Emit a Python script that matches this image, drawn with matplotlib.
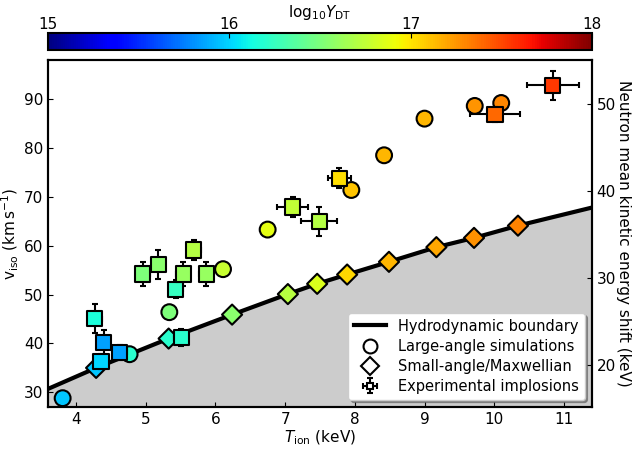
import numpy as np
import matplotlib
matplotlib.use("Agg")
import matplotlib.pyplot as plt
from matplotlib.lines import Line2D

# hydrodynamic boundary curve
bound_T = [3.6, 4.29, 5.33, 6.24, 7.04, 7.46, 7.89, 8.49, 9.17, 9.71, 10.34, 11.4]
bound_v = [30.7, 35.0, 41.0, 45.9, 50.1, 52.2, 54.1, 56.7, 59.7, 61.6, 64.1, 67.8]

# small-angle / Maxwellian (diamonds)
dia_T = [4.29, 5.33, 6.24, 7.04, 7.46, 7.89, 8.49, 9.17, 9.71, 10.34]
dia_v = [35.0, 41.0, 45.9, 50.1, 52.2, 54.1, 56.7, 59.7, 61.6, 64.1]
dia_Y = [15.95, 16.2, 16.55, 16.72, 16.85, 17.05, 17.15, 17.2, 17.27, 17.32]

# large-angle simulations (circles)
circ_T = [3.81, 4.77, 5.34, 6.11, 6.75, 7.95, 8.42, 9.0, 9.72, 10.1]
circ_v = [28.8, 37.8, 46.4, 55.2, 63.3, 71.4, 78.5, 86.0, 88.6, 89.2]
circ_Y = [15.95, 16.2, 16.5, 16.78, 16.88, 17.1, 17.15, 17.15, 17.25, 17.3]

# experimental implosions (squares)
sq_T = [4.27, 4.36, 4.40, 4.63, 5.51, 5.43, 4.96, 5.18, 5.54, 5.69, 5.87,
        7.11, 7.49, 7.78, 10.01, 10.84]
sq_v = [45.1, 36.3, 40.2, 38.2, 41.2, 51.1, 54.2, 56.1, 54.2, 59.1, 54.2,
        67.9, 65.0, 73.8, 86.9, 92.8]
sq_Y = [16.15, 16.0, 15.85, 15.85, 16.2, 16.25, 16.5, 16.55, 16.6, 16.7, 16.6,
        16.75, 16.7, 17.02, 17.4, 17.55]
sq_xerr = [0.1, 0.08, 0.08, 0.1, 0.1, 0.1, 0.1, 0.08, 0.1, 0.1, 0.1,
           0.22, 0.26, 0.16, 0.36, 0.37]
sq_yerr = [3.0, 1.5, 2.5, 1.5, 1.8, 1.8, 2.5, 3.0, 2.5, 2.0, 2.5,
           2.1, 3.0, 2.0, 1.5, 2.9]

plt.rcParams['font.size'] = 11
plt.rcParams['xtick.direction'] = 'in'
plt.rcParams['ytick.direction'] = 'in'

fig = plt.figure(figsize=(6.35, 4.51), dpi=100)
ax = fig.add_axes([0.0756, 0.0976, 0.8565, 0.7694])
cax = fig.add_axes([0.0756, 0.889, 0.8565, 0.0377])

ylo, yhi = 27.0, 98.0
ax.set_xlim(3.6, 11.4)
ax.set_ylim(ylo, yhi)

ax.fill_between(bound_T, ylo, bound_v, color='0.8', zorder=1, lw=0)
ax.plot(bound_T, bound_v, color='k', lw=3, zorder=2)

norm = plt.Normalize(15, 18)
cmap = plt.get_cmap('jet')

ax.scatter(dia_T, dia_v, c=dia_Y, cmap=cmap, norm=norm, marker='D', s=105,
           edgecolors='k', linewidths=1.5, zorder=3)
ax.scatter(circ_T, circ_v, c=circ_Y, cmap=cmap, norm=norm, marker='o', s=130,
           edgecolors='k', linewidths=1.5, zorder=3)
ax.errorbar(sq_T, sq_v, xerr=sq_xerr, yerr=sq_yerr, fmt='none', ecolor='k',
            elinewidth=1.5, capsize=2, capthick=1.5, zorder=4)
sc = ax.scatter(sq_T, sq_v, c=sq_Y, cmap=cmap, norm=norm, marker='s', s=120,
                edgecolors='k', linewidths=1.5, zorder=5)

ax.set_xticks([4, 5, 6, 7, 8, 9, 10, 11])
ax.set_yticks([30, 40, 50, 60, 70, 80, 90])
ax.set_xlabel(r'$T_\mathrm{ion}$ (keV)', labelpad=1)
ax.set_ylabel(r'$\mathrm{v}_\mathrm{iso}$ (km$\,$s$^{-1}$)', labelpad=2)
for s in ax.spines.values():
    s.set_linewidth(1.5)

ax2 = ax.twinx()
ax2.set_ylim(ylo * 0.5618, yhi * 0.5618)
ax2.set_yticks([20, 30, 40, 50])
ax2.set_ylabel('Neutron mean kinetic energy shift (keV)', rotation=270, labelpad=11)
for s in ax2.spines.values():
    s.set_linewidth(1.5)

# legend
h_line = Line2D([], [], color='k', lw=3)
h_circ = Line2D([], [], marker='o', ls='none', mfc='white', mec='k', mew=1.5, ms=10)
h_dia = Line2D([], [], marker='D', ls='none', mfc='white', mec='k', mew=1.5, ms=9)
h_sq = ax.errorbar([np.nan], [np.nan], xerr=[0.1], yerr=[1], fmt='s', mfc='white',
                   mec='k', mew=1.5, ms=5, ecolor='k', elinewidth=1.5, capsize=2)
ax2.legend([h_line, h_circ, h_dia, h_sq],
           ['Hydrodynamic boundary', 'Large-angle simulations',
            'Small-angle/Maxwellian', 'Experimental implosions'],
           loc='lower right', fontsize=10.5, shadow=True, framealpha=1,
           handlelength=2.2, borderaxespad=0.5, labelspacing=0.35)

cb = fig.colorbar(sc, cax=cax, orientation='horizontal')
cb.set_ticks([15, 16, 17, 18])
cax.xaxis.set_ticks_position('top')
cax.xaxis.set_label_position('top')
cax.tick_params(pad=1)
cb.set_label(r'log$_{10}Y_\mathrm{DT}$', labelpad=0)
cb.outline.set_linewidth(1.5)

fig.savefig('out.png', dpi=100)
